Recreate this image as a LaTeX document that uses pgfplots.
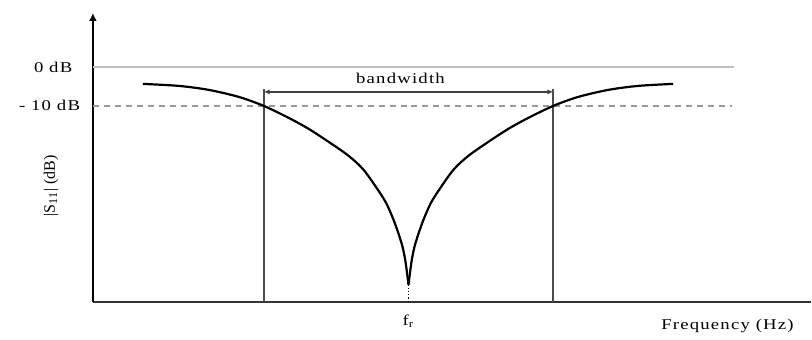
\documentclass[border=0pt]{standalone}
\usepackage{fontspec}
\setmainfont{Liberation Serif}[FakeStretch=1.25, LetterSpace=8]
\newfontfamily\plainserif{Liberation Serif}
\usepackage{pgfplots}
\pgfplotsset{compat=1.18}
\usetikzlibrary{arrows.meta}

% curve, one branch per side of the resonance (f_r at x=316)
\pgfplotstableread{
x y
50 218
86 216
116 212
146 205
171 196
196 184
216 173
236 160
256 146
271 132
286 111
294 98
301 82
306 68
310 55
313 40
316 17
}\leftbranch
\pgfplotstableread{
x y
316 17
319 40
322 55
326 68
331 82
338 98
346 111
361 132
376 146
396 160
416 173
436 184
461 196
486 205
516 212
546 216
581 218
}\rightbranch

\begin{document}
\begin{tikzpicture}
  \begin{axis}[
      x=0.5pt, y=0.5pt,
      xmin=0, xmax=719,
      ymin=0, ymax=289,
      axis x line*=bottom,
      axis y line*=left,
      x axis line style={line width=1pt, color=black!80},
      y axis line style={line width=1.3pt, -{Latex[length=4pt,width=4pt]}},
      xtick=\empty, ytick=\empty,
      clip=false,
      font=\fontsize{7.5}{9}\selectfont,
    ]
    % reference levels
    \addplot[black!25, line width=0.8pt] coordinates {(0,235) (642,235)};
    \addplot[black!40, line width=0.7pt, dash pattern=on 3pt off 2.5pt] coordinates {(0,196) (640,196)};
    % band edges
    \addplot[black!70, line width=0.9pt] coordinates {(171,0) (171,213)};
    \addplot[black!70, line width=0.9pt] coordinates {(461,0) (461,213)};
    \addplot[black!75, line width=0.7pt, {Latex[length=3pt,width=2.5pt]}-{Latex[length=3pt,width=2.5pt]}]
      coordinates {(171,210) (461,210)};
    % |S11| response
    \addplot[black, line width=1.1pt, smooth] table {\leftbranch};
    \addplot[black, line width=1.1pt, smooth] table {\rightbranch};
    \addplot[black, line width=0.6pt, densely dotted] coordinates {(316,17) (316,0)};

    \node at (axis cs:308,224) {bandwidth};
    \node[anchor=west] at (axis cs:-66,235) {0 dB};
    \node[anchor=west] at (axis cs:-81,196) {- 10 dB};
    \node[rotate=90] at (axis cs:-42,116) {\plainserif\fontsize{8}{9}\selectfont |S\textsubscript{11}| (dB)};
    \node at (axis cs:316,-20) {f\textsubscript{r}};
    \node[anchor=west] at (axis cs:562,-24) {Frequency (Hz)};
    \path (axis cs:-93,-32) rectangle (axis cs:719,302);
  \end{axis}
\end{tikzpicture}
\end{document}
